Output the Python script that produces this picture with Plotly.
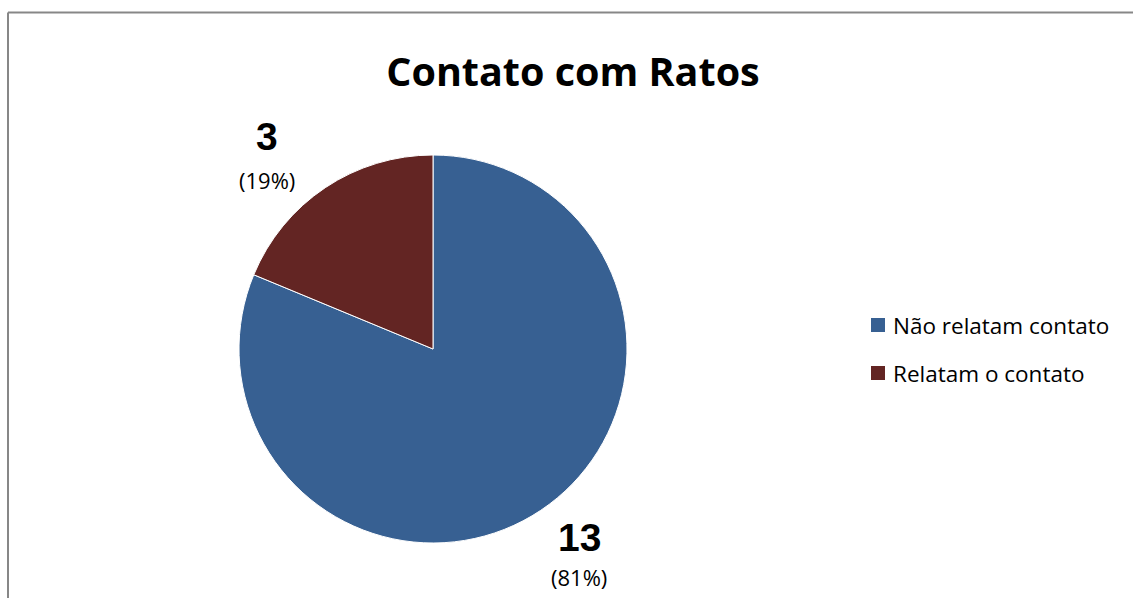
import plotly.graph_objects as go

# Survey answers: contact with rats
labels = ["Não relatam contato", "Relatam o contato"]
counts = [13, 3]
colors = ["#376092", "#632523"]

W, H = 1133, 598
FONT = "Open Sans"
NUM_FONT = "Liberation Sans"

total = sum(counts)
percents = [round(100 * c / total) for c in counts]

fig = go.Figure(
    go.Pie(
        labels=labels,
        values=counts,
        sort=False,
        direction="clockwise",
        rotation=0,
        marker=dict(colors=colors, line=dict(color="white", width=1)),
        textinfo="none",
        hoverinfo="label+value+percent",
        showlegend=False,
        domain=dict(x=[239 / W, 627 / W], y=[(H - 543) / H, (H - 155) / H]),
    )
)

# value labels placed beside each slice
label_pos = [(579, 537, 577), (267, 137, 180)]
annotations = []
for (x, yv, yp), c, p in zip(label_pos, counts, percents):
    annotations.append(dict(x=x / W, y=1 - yv / H, xref="paper", yref="paper",
                            xanchor="center", yanchor="middle",
                            text=f"<b>{c}</b>", showarrow=False,
                            font=dict(family=NUM_FONT, size=39, color="black")))
    annotations.append(dict(x=x / W, y=1 - yp / H, xref="paper", yref="paper",
                            xanchor="center", yanchor="middle",
                            text=f"({p}%)", showarrow=False,
                            font=dict(family=FONT, size=22, color="black")))

# legend: colour squares with their labels
shapes = []
legend_y = [325, 373]
for lab, col, ly in zip(labels, colors, legend_y):
    shapes.append(dict(type="rect", xref="paper", yref="paper",
                       x0=871 / W, x1=885 / W, y0=1 - (ly + 7) / H, y1=1 - (ly - 7) / H,
                       fillcolor=col, line=dict(width=0)))
    annotations.append(dict(x=891 / W, y=1 - ly / H, xref="paper", yref="paper",
                            xanchor="left", yanchor="middle", text=lab, showarrow=False,
                            font=dict(family=FONT, size=22.5, color="black")))

# chart frame
frame = dict(color="#878787", width=2)
shapes.append(dict(type="line", xref="paper", yref="paper", x0=8 / W, x1=1.0,
                   y0=1 - 12.5 / H, y1=1 - 12.5 / H, line=frame))
shapes.append(dict(type="line", xref="paper", yref="paper", x0=8 / W, x1=8 / W,
                   y0=0, y1=1 - 12.5 / H, line=frame))

fig.update_layout(
    width=W,
    height=H,
    margin=dict(l=0, r=0, t=0, b=0),
    paper_bgcolor="white",
    plot_bgcolor="white",
    title=dict(text="<b>Contato com Ratos</b>", x=573 / W, xanchor="center",
               y=1 - 72 / H, yanchor="middle",
               font=dict(family=FONT, size=39.5, color="black")),
    annotations=annotations,
    shapes=shapes,
)

fig.write_html("out.html")
